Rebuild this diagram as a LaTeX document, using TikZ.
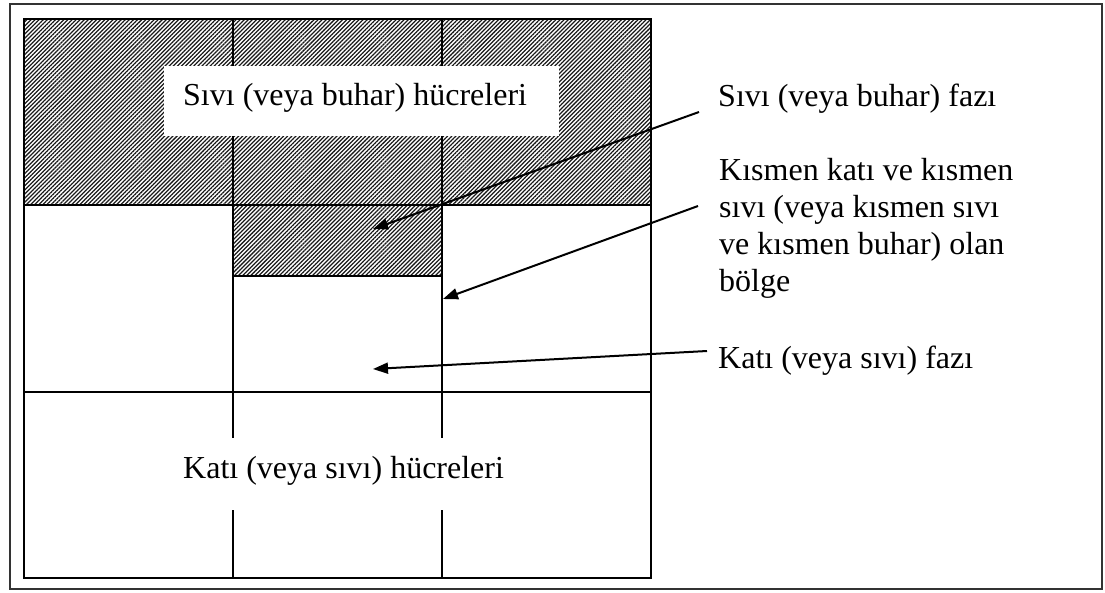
\documentclass[tikz,border=0pt]{standalone}
\usepackage{fontspec}
\setmainfont{Liberation Serif}
\usetikzlibrary{patterns.meta,arrows.meta}
\begin{document}
\begin{tikzpicture}[x=1pt,y=-1pt,
  hatch/.style={pattern={Lines[angle=45,distance=2.9pt,line width=1.25pt]},pattern color=black!90},
  gridline/.style={line width=2pt,black},
  mask/.style={fill=white,draw=none},
  lbl/.style={inner sep=0pt,font=\fontsize{32}{37}\selectfont},
  pointer/.style={line width=2pt,-{Triangle[length=15pt,width=11pt]}}]
\useasboundingbox (0,0) rectangle (1105,592);
\draw[line width=1.8pt,black!80] (10,4) rectangle (1102,589);
% hatched regions
\fill[hatch] (24,19) rectangle (651,205);
\fill[hatch] (233,205) rectangle (442,276);
% grid
\draw[gridline] (24,19) rectangle (651,578);
\draw[gridline] (24,205) -- (651,205);
\draw[gridline] (24,392) -- (651,392);
\draw[gridline] (233,19) -- (233,578);
\draw[gridline] (442,19) -- (442,578);
\draw[gridline] (233,276) -- (442,276);
% label masks
\fill[mask] (164,66) rectangle (559,136);
\fill[mask] (178,438) rectangle (510,510);
% labels
\node[lbl,anchor=base west] (liqcells) at (183,105) {Sıvı (veya buhar) hücreleri};
\node[lbl,anchor=base west] (solcells) at (183,478) {Katı (veya sıvı) hücreleri};
\node[lbl,anchor=base west] (liqphase) at (718,106) {Sıvı (veya buhar) fazı};
\node[lbl,anchor=base west,align=left] (partial) at (719,291) {Kısmen katı ve kısmen\\sıvı (veya kısmen sıvı\\ve kısmen buhar) olan\\bölge};
\node[lbl,anchor=base west] (solphase) at (718,368) {Katı (veya sıvı) fazı};
% arrow ends
\coordinate (a1s) at (699,112);
\coordinate (a1e) at (373,229);
\coordinate (a2s) at (698,206);
\coordinate (a2e) at (443,299);
\coordinate (a3s) at (707,351);
\coordinate (a3e) at (373,369);
\draw[pointer] (a1s) -- (a1e);
\draw[pointer] (a2s) -- (a2e);
\draw[pointer] (a3s) -- (a3e);
\end{tikzpicture}
\end{document}
